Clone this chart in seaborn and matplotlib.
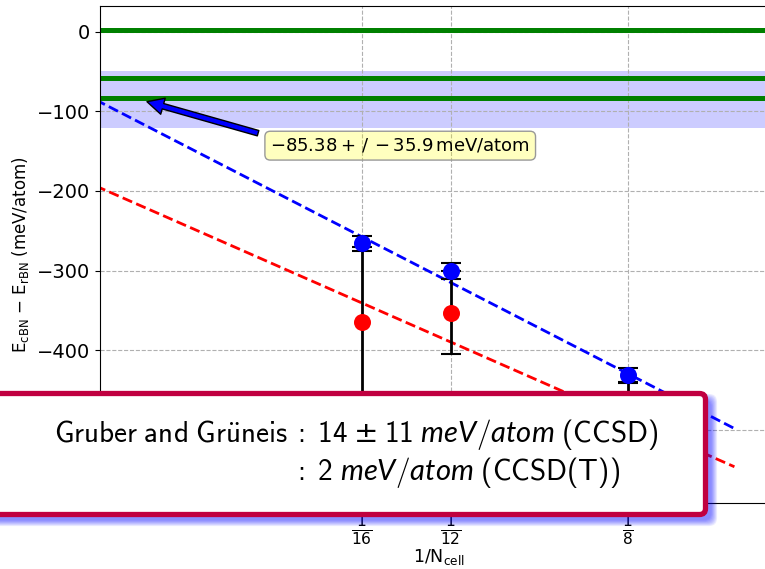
import numpy as np
import pandas as pd
import matplotlib
matplotlib.use("Agg")
import matplotlib.pyplot as plt
import seaborn as sns
from matplotlib.patches import FancyBboxPatch
from matplotlib.transforms import IdentityTransform

# data
n_inv = [1/16, 1/12, 1/8]
tick_labels = [r"$\frac{1}{16}$", r"$\frac{1}{12}$", r"$\frac{1}{8}$"]
blue_pts = [-266, -301, -432]
blue_err = [10, 10, 10]
red_pts = [-365, -353, -490]
red_err = [95, 52, 50]
fit_x = [0.0, 0.15]
blue_fit = [-85.38, -498.7]
red_fit = [-193.7, -546.8]
ref_lines = [3, -57.5, -83]
extrap = -85.38
extrap_err = 35.9

plt.rcParams['mathtext.fontset'] = 'dejavusans'
plt.rcParams['mathtext.rm'] = 'cmss10'
plt.rcParams['mathtext.it'] = 'Lato:italic'
plt.rcParams['mathtext.sf'] = 'cmss10'
plt.rcParams['mathtext.tt'] = 'DejaVu Sans'

fig = plt.figure(figsize=(7.65, 5.69), dpi=100)
ax = fig.add_axes([100/765, 66.3/569, 677/765, 497/569])

# extrapolated value with its uncertainty
ax.axhspan(extrap - extrap_err, extrap + extrap_err, color='blue', alpha=0.2, lw=0)
for v in ref_lines:
    ax.axhline(v, color='green', lw=3.6)

df_fit = pd.DataFrame({'x': fit_x, 'blue': blue_fit, 'red': red_fit})
sns.lineplot(data=df_fit, x='x', y='blue', color='blue', linestyle='--', lw=2, ax=ax)
sns.lineplot(data=df_fit, x='x', y='red', color='red', linestyle='--', lw=2, ax=ax)

ax.errorbar(n_inv, blue_pts, yerr=blue_err, fmt='none', ecolor='k', elinewidth=2, capsize=7, capthick=1.5)
ax.errorbar(n_inv, red_pts, yerr=red_err, fmt='none', ecolor='k', elinewidth=2, capsize=7, capthick=1.5)
sns.scatterplot(x=n_inv, y=blue_pts, color='blue', s=150, linewidth=0, zorder=3, ax=ax)
sns.scatterplot(x=n_inv, y=red_pts, color='red', s=150, linewidth=0, zorder=3, ax=ax)

ax.annotate(r"$-85.38 +\,/\,- 35.9\,\mathregular{meV/atom}$", xy=(0.0105, -85.38), xytext=(0.041, -143),
            va='center', fontsize=13,
            bbox=dict(boxstyle='round', fc=(1, 1, 0, 0.25), ec='0.6'),
            arrowprops=dict(facecolor='blue', shrink=0.05))

ax.set_xlim(0.001, 0.16)
ax.set_ylim(-592, 33)
ax.set_xticks(n_inv)
ax.set_xticklabels(tick_labels, fontsize=16)
ax.set_yticks([-500, -400, -300, -200, -100, 0])
ax.tick_params(axis='y', labelsize=14)
ax.grid(True, ls='--')
ax.set_xlabel(r"1/N$_\mathregular{cell}$", fontsize=12.5, labelpad=0)
ax.set_ylabel(r"E$_\mathregular{cBN}$ $-$ E$_\mathregular{rBN}$ (meV/atom)", fontsize=12)

# overlay box with blurred blue shadow (pixel coordinates)
bx, by, bw, bh = -20, 54.5, 725.5, 121
for i in range(8):
    sh = FancyBboxPatch((bx + 6 - i * 0.8, by - 6 - i * 0.8), bw + i * 1.6, bh + i * 1.6,
                        boxstyle='round,pad=0,rounding_size=8', transform=IdentityTransform(),
                        fc='blue', ec='none', alpha=0.07, zorder=4)
    fig.patches.append(sh)
box = FancyBboxPatch((bx, by), bw, bh, boxstyle='round,pad=0,rounding_size=6',
                     transform=IdentityTransform(), fc='white', ec='#c00040', lw=3.8, zorder=5)
fig.patches.append(box)

fig.text(0.376, 1 - 434/569, r"$\mathrm{Gruber\ and\ Gr\ddot{u}neis}$", ha='right', va='center',
         fontsize=21, math_fontfamily='custom', zorder=6)
fig.text(0.383, 1 - 434/569, r"$:\ 14\;\mathtt{\pm}\;11\ meV/atom\ \mathrm{(CCSD)}$", ha='left', va='center',
         fontsize=21, math_fontfamily='custom', zorder=6)
fig.text(0.383, 1 - 472/569, r"$:\ 2\ meV/atom\ \mathrm{(CCSD(T))}$", ha='left', va='center',
         fontsize=21, math_fontfamily='custom', zorder=6)

fig.savefig('out.png', dpi=100)
